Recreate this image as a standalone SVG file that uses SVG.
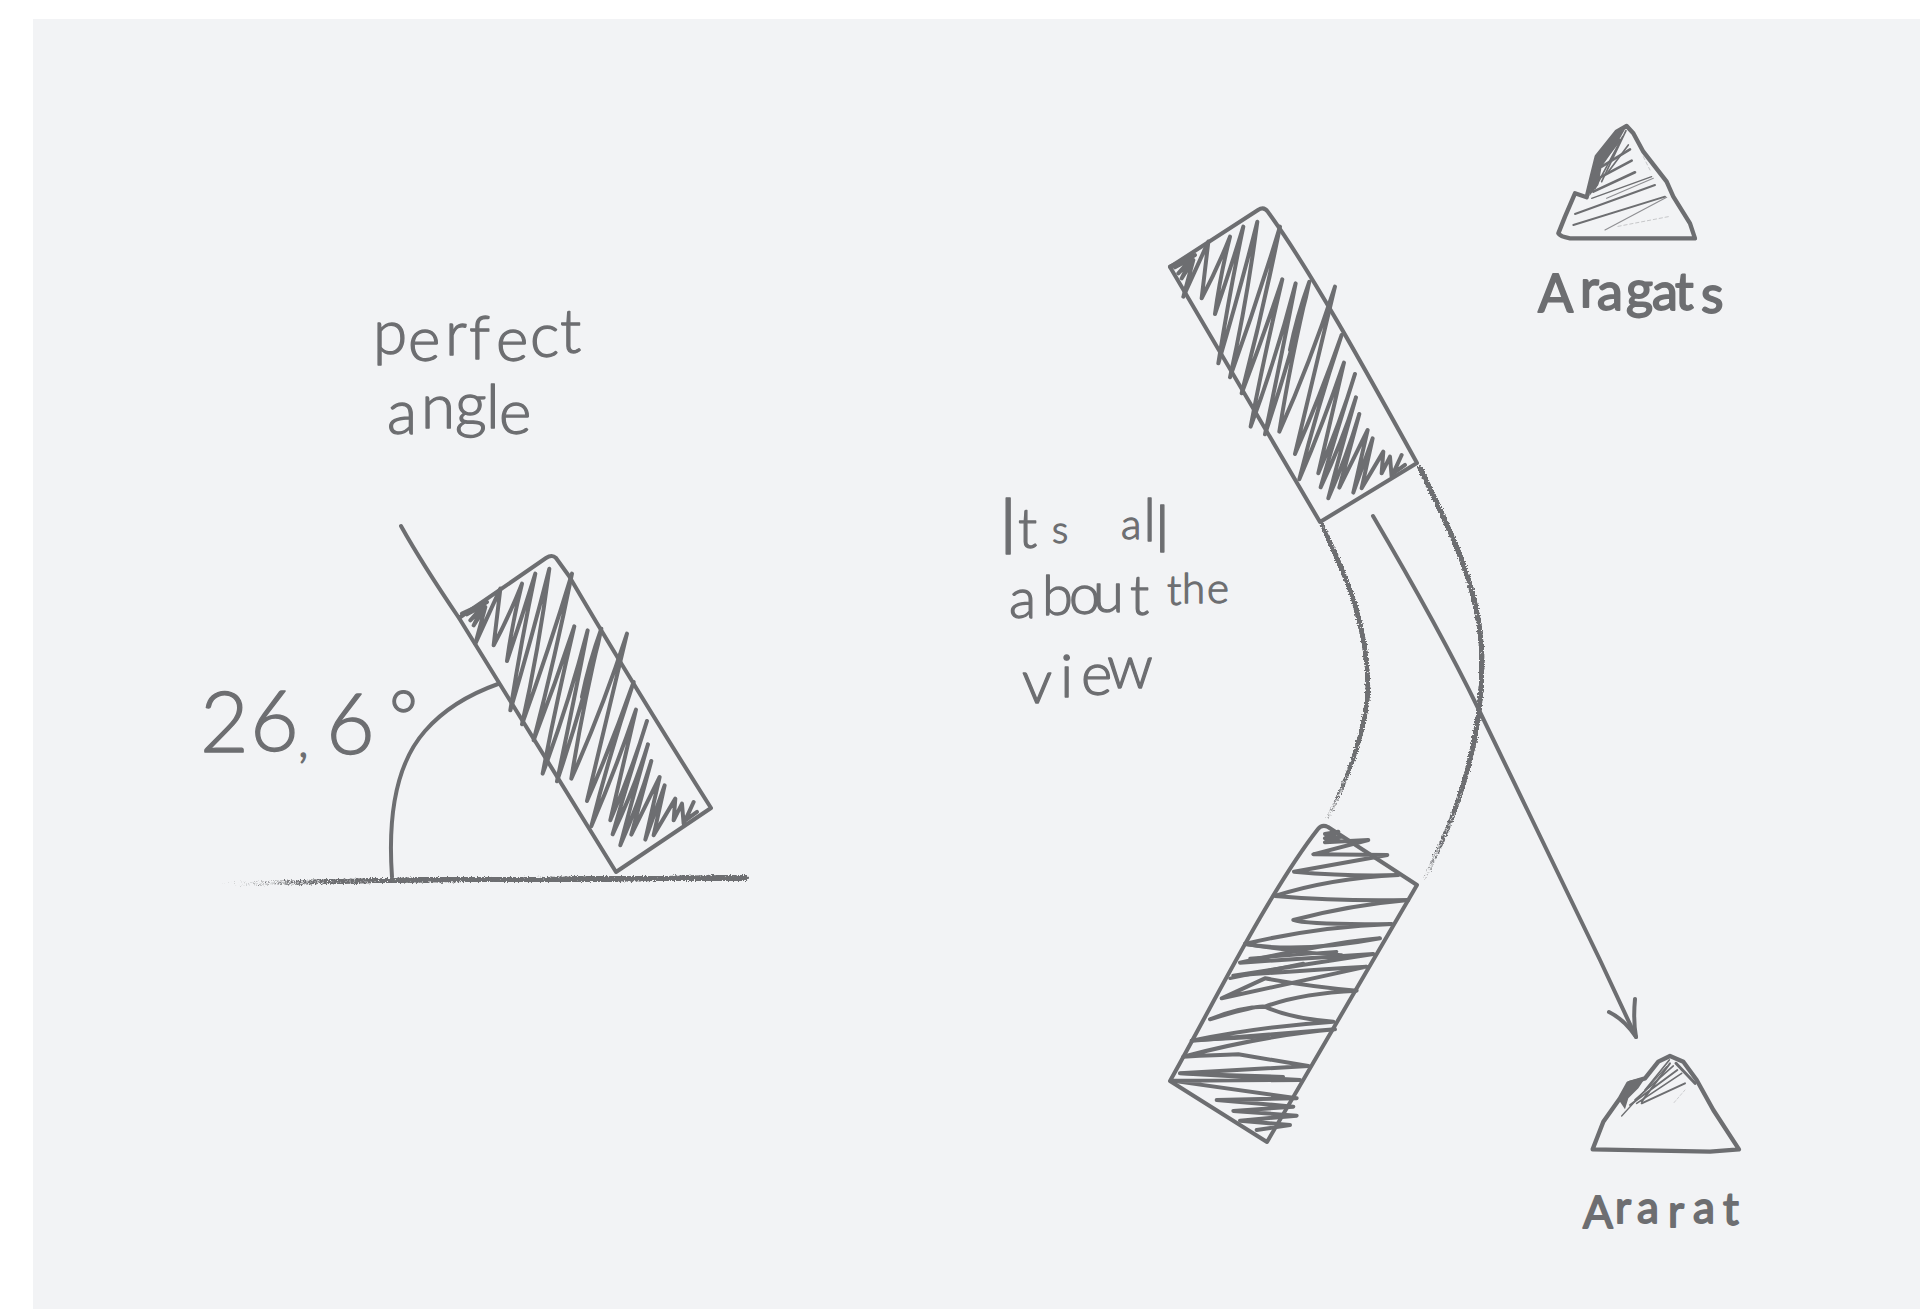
<svg xmlns="http://www.w3.org/2000/svg" width="1929" height="1309" viewBox="0 0 1929 1309">
<style>
.l{fill:none;stroke:#6d6e71;stroke-width:4;stroke-linecap:round;stroke-linejoin:round}
.s{fill:none;stroke:#6d6e71;stroke-linecap:round;stroke-linejoin:round}
.t{font-family:"Lato","Liberation Sans",sans-serif;font-weight:300;fill:#6d6e71;stroke:#6d6e71;stroke-linejoin:round;stroke-width:1.3px}
.b{font-weight:400;stroke-width:1.8px}
.ch{fill:none;stroke-linecap:round;stroke-linejoin:round}
</style>
<defs>
<filter id="chalk" filterUnits="userSpaceOnUse" x="0" y="0" width="1929" height="1309" color-interpolation-filters="sRGB">
<feTurbulence type="fractalNoise" baseFrequency="0.7" numOctaves="2" seed="4" result="n"/>
<feColorMatrix in="n" type="matrix" values="0 0 0 0 0 0 0 0 0 0 0 0 0 0 0 1 0 0 0 0" result="na"/>
<feComposite in="SourceGraphic" in2="na" operator="in" result="m"/>
<feComponentTransfer in="m" result="o"><feFuncA type="linear" slope="8" intercept="-1.3"/></feComponentTransfer>
<feDisplacementMap in="o" in2="n" scale="3.5" xChannelSelector="R" yChannelSelector="G"/>
</filter>
<linearGradient id="g1" gradientUnits="userSpaceOnUse" x1="0" y1="525" x2="0" y2="825">
<stop offset="0" stop-color="#6d6e71"/><stop offset=".6" stop-color="#6d6e71"/><stop offset=".82" stop-color="#6d6e71" stop-opacity=".62"/><stop offset="1" stop-color="#6d6e71" stop-opacity=".28"/>
</linearGradient>
<linearGradient id="g2" gradientUnits="userSpaceOnUse" x1="0" y1="468" x2="0" y2="885">
<stop offset="0" stop-color="#6d6e71"/><stop offset=".62" stop-color="#6d6e71"/><stop offset=".85" stop-color="#6d6e71" stop-opacity=".62"/><stop offset="1" stop-color="#6d6e71" stop-opacity=".28"/>
</linearGradient>
<linearGradient id="g3" gradientUnits="userSpaceOnUse" x1="214" y1="0" x2="480" y2="0">
<stop offset="0" stop-color="#6d6e71" stop-opacity=".2"/><stop offset=".5" stop-color="#6d6e71" stop-opacity=".65"/><stop offset="1" stop-color="#6d6e71"/>
</linearGradient>
<path id="scribble" transform="translate(1150,190) scale(.3333)" d="M60 230L135 195L75 232L125 205L85 250L120 215L95 265L130 210L100 320L175 155L155 325Q200 240 240 140Q210 260 195 372Q240 240 280 110Q240 300 205 520Q270 300 322 95Q290 340 240 562Q320 340 390 110Q340 360 275 610Q340 440 397 268Q340 510 302 710Q380 500 437 280Q390 520 345 733Q420 510 478 275Q440 380 420 480Q460 370 478 275Q420 520 388 725Q480 520 555 290Q490 560 435 792Q510 620 575 435Q500 660 448 868Q520 700 582 518Q540 700 505 850Q570 700 615 552Q555 740 512 892Q575 760 618 622Q570 790 535 925Q590 800 628 672L568 893L653 720L610 908L668 745L635 895L700 785L695 850L720 800L725 860L755 795L730 850L765 825"/>
</defs>
<rect id="background" x="0" y="0" width="1929" height="1309" fill="#ffffff"/>
<rect id="panel" x="33" y="19" width="1887" height="1290" fill="#f2f3f5"/>

<g id="ground"><path class="ch" stroke="url(#g3)" stroke-width="5.500" filter="url(#chalk)" d="M214 884C300 883 400 879 480 879.500S650 878 746 878"/></g>

<g id="angle-panel">
<path class="l" d="M401 526C420 560 440 590 459 618L616 872L711 808Q630 680 569 576L556 558Q552 554 546 558L459 618"/>
<path class="l" d="M498 684C470 694 445 708 425 731C395 765 388 820 392 877"/>
<use href="#scribble" class="s" stroke-width="12" transform="translate(-708,347)"/>
</g>

<g id="top-panel">
<path class="l" d="M1170 267L1258 210Q1264 206 1268 212C1310 270 1360 360 1417 463L1320 522Z"/>
<use href="#scribble" class="s" stroke-width="12"/>
</g>

<g id="bottom-panel">
<path class="l" d="M1170 1081C1210 1010 1270 890 1318 829Q1322 824 1328 827L1417 885L1267 1142Z"/>
<path class="s" stroke-width="12" transform="translate(1150,810) scale(.3333)" d="M525 72L565 65L525 85L575 80L525 97L655 90L490 133L712 135L432 185Q600 200 745 195Q540 205 375 258Q580 275 775 270Q600 285 430 330Q470 345 725 342Q500 350 285 402Q450 430 690 385Q560 395 270 458L670 432L250 497Q480 480 650 470L215 565L345 505Q480 530 620 542Q450 550 345 590Q270 590 180 628Q320 585 345 590Q420 625 550 635Q330 650 125 692L555 658Q350 675 100 740Q200 735 265 733L475 768L90 790L450 810L65 812L440 865L200 870L430 890L250 903L440 917L270 932L420 945L320 960"/>
<path class="s" stroke-width="10" transform="translate(1150,810) scale(.3333)" d="M285 402Q420 425 575 435M300 445L560 425M240 505L460 460M125 692L350 680M90 790L400 800"/>
</g>

<g id="connectors">
<path class="ch" stroke="url(#g1)" stroke-width="4.800" filter="url(#chalk)" d="M1322 525C1345 575 1367 620 1368 687C1367 725 1350 775 1328 817"/>
<path class="ch" stroke="url(#g2)" stroke-width="5.200" filter="url(#chalk)" d="M1420 468C1450 530 1482 590 1482 663C1482 730 1465 800 1425 877"/>
<path class="l" d="M1373 516Q1440 630 1478 708L1600 960L1636 1037"/>
<path class="l" d="M1609 1012Q1625 1020 1636 1037Q1633 1020 1635 999"/>
</g>

<g id="mountain-aragats" transform="translate(1530,110) scale(.3333)">
<path class="s" stroke-width="13" d="M85 370L105 320L135 250L170 262L185 200L200 140L260 65L290 48L310 70L340 125L410 215L430 260L480 340L495 385L120 385Q90 380 85 370Z"/>
<path fill="#6d6e71" d="M200 140L262 68L285 58L250 120L215 170L205 225L178 258L185 200Z"/>
<g class="s">
<path stroke-width="8" d="M300 118L215 170M305 152L205 205M315 187L190 245M270 90L205 170"/>
<path stroke-width="5" d="M288 62L215 215M278 80L195 235M295 105L235 185"/>
<path stroke-width="4" d="M365 200L185 265"/>
<path stroke-width="6" d="M375 225L135 312M405 260L130 345"/>
<path stroke-width="3.500" opacity=".75" d="M410 262L225 360M370 205L230 265"/>
<path stroke-width="2.500" opacity=".4" stroke-dasharray="10 8" d="M415 320L260 350M340 140L360 180"/>
</g>
</g>

<g id="mountain-ararat" transform="translate(1570,1040) scale(.3333)">
<path class="s" stroke-width="13" d="M68 328L100 245L150 175L175 130L225 115L265 65L300 48L340 65L380 120L430 210L507 328L420 335Z"/>
<path fill="#6d6e71" d="M145 178L178 122L228 110L205 145L175 175L165 208Z"/>
<g class="s">
<path stroke-width="6" d="M300 70L215 185M322 90L180 195M345 130L215 190"/>
<path stroke-width="5" d="M298 60L225 150M310 78L195 180M335 100L200 190"/>
<path stroke-width="4" d="M155 228L290 80"/>
<path stroke-width="9" d="M318 70L375 130"/>
<path stroke-width="2.500" opacity=".35" stroke-dasharray="8 6" d="M345 150L312 188"/>
</g>
</g>

<g id="label-perfect-angle">
<text class="t" font-size="62" x="373 408 445 469 496 530 560" y="354 361 355 359 361 357 353">perfect</text>
<text class="t" font-size="62" x="387 421 455 486 499" y="434 428 426 428 434">angle</text>
</g>
<g id="label-angle-value">
<text class="t" font-size="84" stroke-width=".8"><tspan x="200" y="752">2</tspan><tspan x="250" y="751">6</tspan><tspan x="298" y="757" font-size="48">,</tspan><tspan x="326" y="754">6</tspan><tspan x="389" y="742" font-size="70">°</tspan></text>
</g>
<g id="label-view">
<text class="t"><tspan x="998" y="554" font-size="78">I</tspan><tspan x="1018" y="548" font-size="56">t</tspan><tspan x="1052" y="543" font-size="38">s </tspan><tspan x="1121" y="539" font-size="42">a</tspan><tspan x="1143" y="541" font-size="60">l</tspan><tspan x="1155" y="552" font-size="66">l</tspan></text>
<text class="t" font-size="56" x="1009 1042 1069 1093 1130" y="618 615 614 612 615">about</text>
<text class="t" font-size="42" x="1167 1182 1207" y="605 603 603">the</text>
<text class="t" font-size="60" x="1022 1060 1081 1107" y="703 697 695 688">view</text>
</g>
<g id="label-aragats">
<text class="t b" font-size="52" x="1538 1580 1597 1626 1652 1675 1701" y="312 307 310 308 310 310 313">Aragats</text>
</g>
<g id="label-ararat">
<text class="t b" font-size="44" x="1583 1615 1637 1668 1693 1723" y="1228 1223 1223 1227 1223 1225">Ararat</text>
</g>
</svg>
